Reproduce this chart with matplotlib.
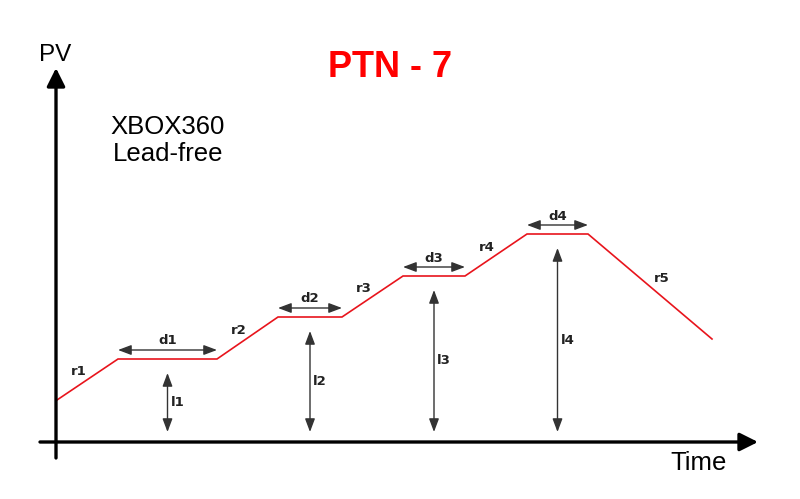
import matplotlib
matplotlib.use('Agg')
import matplotlib.pyplot as plt

# profile points: time, PV (arbitrary units, origin at axis crossing)
time = [0, 61, 160, 221, 285, 346, 408, 470, 531, 655]
pv = [42, 83, 83, 125, 125, 166, 166, 208, 208, 103]

ramp_labels = ['r1', 'r2', 'r3', 'r4', 'r5']
dwell_labels = ['d1', 'd2', 'd3', 'd4']
level_labels = ['l1', 'l2', 'l3', 'l4']

fig = plt.figure(figsize=(8, 4.99), dpi=100)
ax = fig.add_axes([0, 0, 1, 1])
ax.set_xlim(-57, 743)
ax.set_ylim(-57, 442)
ax.axis('off')

small = dict(family='DejaVu Sans', fontweight='bold', fontsize=9.5, color='#222222')

# axes with arrows
axis_arrow = dict(arrowstyle='-|>,head_length=1.1,head_width=0.55', mutation_scale=10,
                  lw=2.4, color='black', shrinkA=0, shrinkB=0)
ax.annotate('', xy=(-1, 374), xytext=(-1, -16), arrowprops=axis_arrow)
ax.annotate('', xy=(701, 0), xytext=(-17, 0), arrowprops=axis_arrow)

# red profile line
ax.plot(time, pv, color='#e8141c', lw=1.2, solid_joinstyle='miter')

dim_arrow = dict(arrowstyle='<|-|>,head_length=0.8,head_width=0.3', mutation_scale=10,
                 lw=1.0, color='#333333', shrinkA=0, shrinkB=0)

# ramp labels
for i, lab in enumerate(ramp_labels):
    t0, t1 = time[2 * i], time[2 * i + 1]
    p0, p1 = pv[2 * i], pv[2 * i + 1]
    mt, mp = (t0 + t1) / 2, (p0 + p1) / 2
    dx = 12 if p1 < p0 else -9
    ax.text(mt + dx, mp + 8, lab, ha='center', va='center', **small)

# dwell arrows and level arrows
for i in range(4):
    t0, t1 = time[2 * i + 1], time[2 * i + 2]
    p = pv[2 * i + 1]
    ax.annotate('', xy=(t1, p + 9), xytext=(t0, p + 9), arrowprops=dim_arrow)
    ax.text((t0 + t1) / 2, p + 18, dwell_labels[i], ha='center', va='center', **small)
    mt = (t0 + t1) / 2
    ax.annotate('', xy=(mt, 10), xytext=(mt, p - 14), arrowprops=dim_arrow)
    ax.text(mt + 10, (10 + p - 14) / 2, level_labels[i], ha='center', va='center', **small)

ax.text(-2, 387, 'PV', ha='center', va='center', family='Liberation Sans', fontsize=17.5)
ax.text(642, -21, 'Time', ha='center', va='center', family='Liberation Sans', fontsize=18.5)
ax.text(111, 315, 'XBOX360', ha='center', va='center', family='Liberation Sans', fontsize=18.5)
ax.text(111, 288, 'Lead-free', ha='center', va='center', family='Liberation Sans', fontsize=18.5)
ax.text(333, 375, 'PTN - 7', ha='center', va='center', family='Liberation Sans',
        fontweight='bold', fontsize=26, color='#ff0000')

fig.savefig('out.png', dpi=100)
